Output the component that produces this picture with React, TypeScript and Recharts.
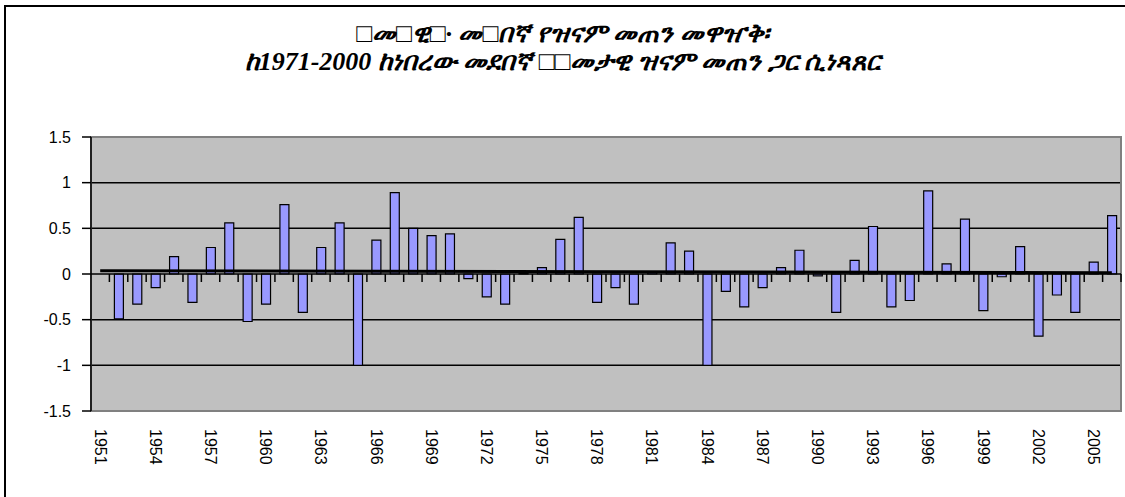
import { Bar, CartesianGrid, ComposedChart, Line, ReferenceArea, ReferenceLine, XAxis, YAxis } from "recharts";

const years = [
  1951, 1952, 1953, 1954, 1955, 1956, 1957, 1958, 1959, 1960, 1961, 1962, 1963, 1964,
  1965, 1966, 1967, 1968, 1969, 1970, 1971, 1972, 1973, 1974, 1975, 1976, 1977, 1978,
  1979, 1980, 1981, 1982, 1983, 1984, 1985, 1986, 1987, 1988, 1989, 1990, 1991, 1992,
  1993, 1994, 1995, 1996, 1997, 1998, 1999, 2000, 2001, 2002, 2003, 2004, 2005, 2006,
];

// rainfall anomaly per year (1951 has no bar)
const anomaly = [
  null, -0.49, -0.33, -0.15, 0.19, -0.31, 0.29, 0.56, -0.52, -0.33, 0.76, -0.42, 0.29, 0.56,
  -1.0, 0.37, 0.89, 0.5, 0.42, 0.44, -0.05, -0.25, -0.33, 0.01, 0.07, 0.38, 0.62, -0.31,
  -0.15, -0.33, 0.02, 0.34, 0.25, -1.0, -0.19, -0.36, -0.15, 0.07, 0.26, -0.02, -0.42, 0.15,
  0.52, -0.36, -0.29, 0.91, 0.11, 0.6, -0.4, -0.03, 0.3, -0.68, -0.23, -0.42, 0.13, 0.64,
];

// linear trend, only its two end points
const trendStart = 0.035;
const trendEnd = 0.015;

const yTicks = [-1.5, -1, -0.5, 0, 0.5, 1, 1.5];
const gridValues = [1, 0.5, -0.5, -1];

const titleLine1 = "□መ□ዊ□· መ□በኛ የዝናም መጠን መዋዠቅ፡";
const titleLine2 = "ከ1971-2000 ከነበረው መደበኛ □□መታዊ ዝናም መጠን ጋር ሲነጻጸር";

const data = years.map((year, i) => ({
  year,
  value: anomaly[i],
  trend: i === 0 ? trendStart : i === years.length - 1 ? trendEnd : null,
}));

const FONT = "'Liberation Sans', Arial, sans-serif";

function YearTick({ x, y, payload }: any) {
  return (
    <text
      x={0}
      y={0}
      transform={`translate(${x},${y + 10}) rotate(90)`}
      textAnchor="start"
      dominantBaseline="central"
      fontFamily={FONT}
      fontSize={16}
      fill="#000"
    >
      {payload.value}
    </text>
  );
}

// zero line of the category axis, with tick marks between the years
function ZeroAxis({ x1, y1, x2 }: any) {
  const step = (x2 - x1) / years.length;
  return (
    <g>
      <line x1={x1} y1={y1} x2={x2} y2={y1} stroke="#000" strokeWidth={1.5} />
      {years.map((yr, i) => (
        <line key={yr} x1={x1 + step * (i + 1)} y1={y1} x2={x1 + step * (i + 1)} y2={y1 + 8} stroke="#000" strokeWidth={1.5} />
      ))}
    </g>
  );
}

export default function App() {
  return (
    <div style={{ position: "absolute", left: 0, top: 0, width: 1125, height: 497, background: "#fff", overflow: "hidden" }}>
      <div
        style={{
          position: "absolute",
          left: 4,
          top: 5,
          width: 1130,
          height: 500,
          border: "2px solid #000",
        }}
      />
      <div
        style={{
          position: "absolute",
          left: 0,
          top: 20,
          width: 1125,
          textAlign: "center",
          fontFamily: "'Liberation Serif', 'Times New Roman', serif",
          fontWeight: "bold",
          fontStyle: "italic",
          fontSize: 26,
          lineHeight: "28px",
          color: "#000",
        }}
      >
        <div>{titleLine1}</div>
        <div>{titleLine2}</div>
      </div>
      <div style={{ position: "absolute", left: 0, top: 0 }}>
        <ComposedChart width={1125} height={497} data={data} margin={{ top: 137, right: 4, bottom: 0, left: 0 }} barCategoryGap={0}>
          <CartesianGrid fill="#C0C0C0" vertical={false} horizontalValues={gridValues} stroke="#000" strokeWidth={1.5} strokeOpacity={1} />
          <XAxis dataKey="year" interval={2} height={86} axisLine={false} tickLine={false} tick={<YearTick />} />
          <YAxis
            domain={[-1.5, 1.5]}
            ticks={yTicks}
            width={91}
            interval={0}
            tickSize={9}
            tickMargin={11}
            axisLine={{ stroke: "#000", strokeWidth: 1.5 }}
            tickLine={{ stroke: "#000", strokeWidth: 1.5 }}
            tick={{ fontFamily: FONT, fontSize: 16, fill: "#000" }}
          />
          <ReferenceArea y1={-1.5} y2={1.5} fill="none" stroke="#808080" strokeWidth={2} ifOverflow="visible" />
          <Bar dataKey="value" barSize={9} fill="#9999FF" stroke="#000" strokeWidth={1.2} isAnimationActive={false} />
          <ReferenceLine y={0} shape={<ZeroAxis />} />
          <Line dataKey="trend" stroke="#000" strokeWidth={3} dot={false} connectNulls isAnimationActive={false} />
        </ComposedChart>
      </div>
    </div>
  );
}
